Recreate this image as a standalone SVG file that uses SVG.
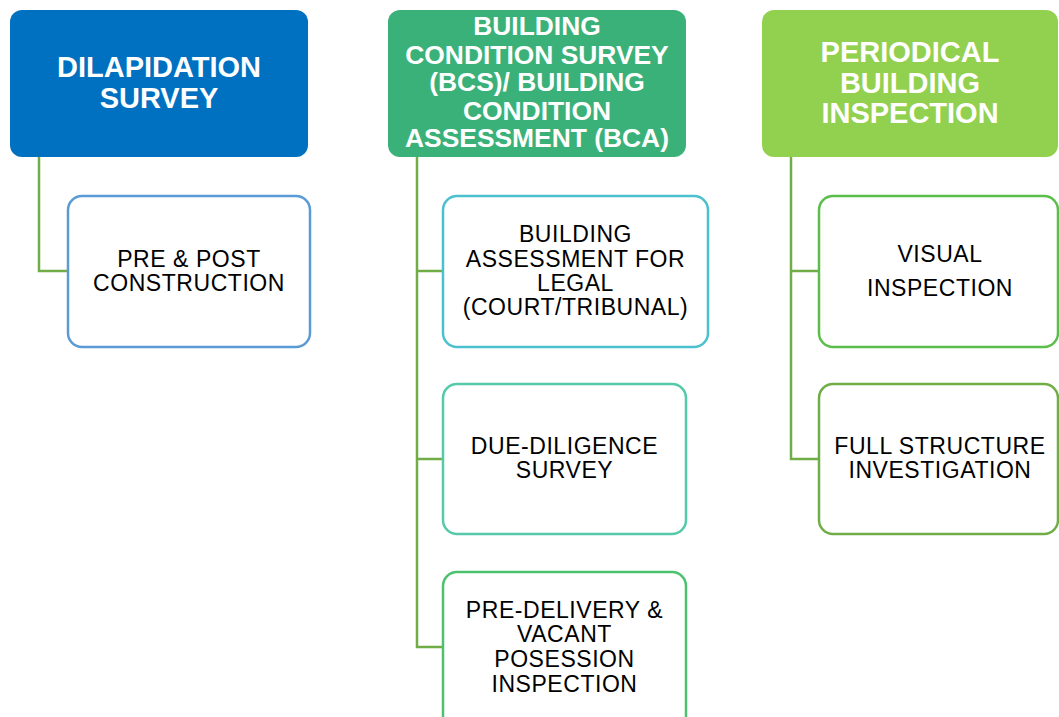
<svg xmlns="http://www.w3.org/2000/svg" width="1059" height="717" viewBox="0 0 1059 717">
<style>
.hd{font-family:"Liberation Sans",Arial,sans-serif;font-weight:bold;fill:#ffffff;text-anchor:middle}
.ch{font-family:"Liberation Sans",Arial,sans-serif;fill:#000000;text-anchor:middle;font-size:23px;letter-spacing:0.55px}
.box{fill:#ffffff;stroke-width:2.5}
.con{fill:none;stroke:#70AD47;stroke-width:2.5}
</style>
<rect width="1059" height="717" fill="#ffffff"/>
<g id="connectors">
<path class="con" d="M39 157 V271 H68"/>
<path class="con" d="M417 157 V647 H443 M417 271 H443 M417 459 H443"/>
<path class="con" d="M791 157 V459 H819 M791 271 H819"/>
</g>
<g id="h1">
<rect x="10" y="10" width="298" height="147" rx="12" fill="#0070C0"/>
<text class="hd" font-size="29"><tspan x="159" y="77">DILAPIDATION</tspan><tspan x="159" y="108">SURVEY</tspan></text>
</g>
<g id="h2">
<rect x="388" y="10" width="298" height="147" rx="12" fill="#3BB17A"/>
<text class="hd" font-size="26.4"><tspan x="537" y="35">BUILDING</tspan><tspan x="537" y="63.5">CONDITION SURVEY</tspan><tspan x="537" y="91">(BCS)/ BUILDING</tspan><tspan x="537" y="119.5">CONDITION</tspan><tspan x="537" y="147">ASSESSMENT (BCA)</tspan></text>
</g>
<g id="h3">
<rect x="762" y="10" width="296" height="147" rx="12" fill="#92D050"/>
<text class="hd" font-size="29"><tspan x="910" y="62">PERIODICAL</tspan><tspan x="910" y="93">BUILDING</tspan><tspan x="910" y="123">INSPECTION</tspan></text>
</g>
<g id="c1">
<rect class="box" x="68" y="196" width="242" height="151" rx="14" stroke="#5B9BD5"/>
<text class="ch"><tspan x="189" y="267">PRE &amp; POST</tspan><tspan x="189" y="291">CONSTRUCTION</tspan></text>
</g>
<g id="c2">
<rect class="box" x="443" y="196" width="265" height="151" rx="14" stroke="#4BC1D0"/>
<text class="ch"><tspan x="575.5" y="242">BUILDING</tspan><tspan x="575.5" y="267">ASSESSMENT FOR</tspan><tspan x="575.5" y="291">LEGAL</tspan><tspan x="575.5" y="315">(COURT/TRIBUNAL)</tspan></text>
</g>
<g id="c3">
<rect class="box" x="443" y="384" width="243" height="150" rx="14" stroke="#55C9A9"/>
<text class="ch"><tspan x="564.5" y="454">DUE-DILIGENCE</tspan><tspan x="564.5" y="478">SURVEY</tspan></text>
</g>
<g id="c4">
<rect class="box" x="443" y="572" width="243" height="160" rx="14" stroke="#4CC26F"/>
<text class="ch"><tspan x="564.5" y="618">PRE-DELIVERY &amp;</tspan><tspan x="564.5" y="642">VACANT</tspan><tspan x="564.5" y="667">POSESSION</tspan><tspan x="564.5" y="692">INSPECTION</tspan></text>
</g>
<g id="c5">
<rect class="box" x="819" y="196" width="239" height="151" rx="14" stroke="#5CBE4A"/>
<text class="ch"><tspan x="940" y="262">VISUAL</tspan><tspan x="940" y="296">INSPECTION</tspan></text>
</g>
<g id="c6">
<rect class="box" x="819" y="384" width="239" height="150" rx="14" stroke="#70AD47"/>
<text class="ch"><tspan x="940" y="454">FULL STRUCTURE</tspan><tspan x="940" y="478">INVESTIGATION</tspan></text>
</g>
</svg>
